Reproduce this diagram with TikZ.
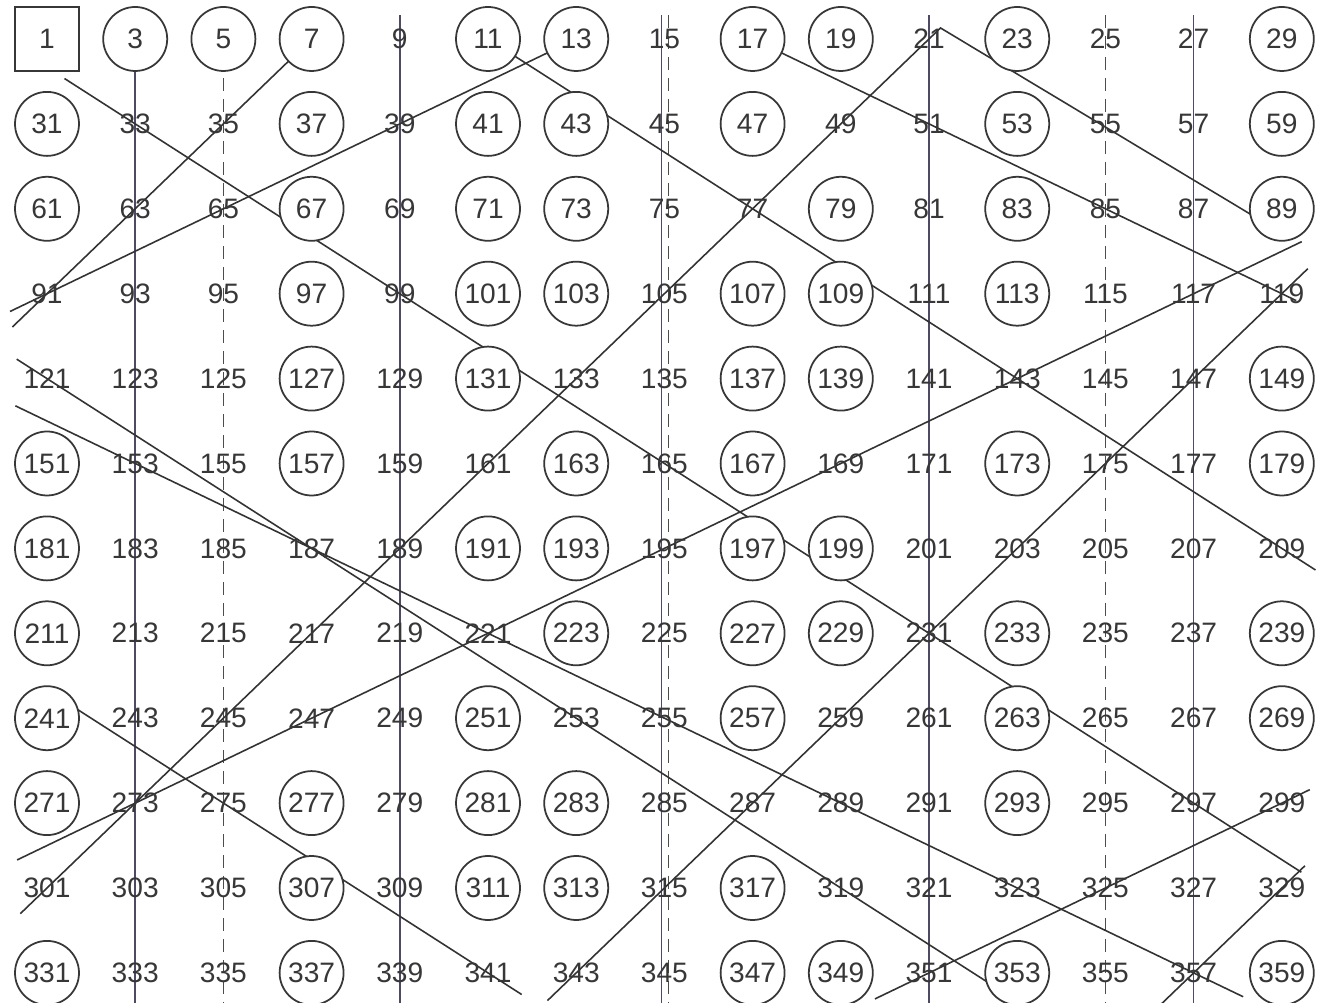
\documentclass[tikz,border=0pt]{standalone}
\usepackage{fontspec}
\newfontfamily\sievefont{Liberation Sans}
\definecolor{sieveInk}{RGB}{55,55,55}
\definecolor{sieveRule}{RGB}{78,74,100}
\usepackage{tikz}
\usetikzlibrary{calc}
\pgfdeclarelayer{strikes}
\pgfsetlayers{strikes,main}
\newcommand\primelist{3,5,7,11,13,17,19,23,29,31,37,41,43,47,53,59,61,67,71,73,79,83,89,97,101,103,107,109,113,127,131,137,139,149,151,157,163,167,173,179,181,191,193,197,199,211,223,227,229,233,239,241,251,257,263,269,271,277,281,283,293,307,311,313,317,331,337,347,349,353,359}
\makeatletter
\newcommand\sievestyle[1]{%
  \edef\sieve@tmp{\noexpand\in@{,#1,}{,\primelist,}}\sieve@tmp
  \ifin@\tikzset{cur/.style={prime}}\else\tikzset{cur/.style={num}}\fi
  \ifnum#1=1 \tikzset{cur/.style={unitbox}}\fi}
\makeatother

\begin{document}
\begin{tikzpicture}[
    num/.style={font=\sievefont\fontsize{8}{8}\selectfont, text=sieveInk, inner sep=0pt},
    prime/.style={num, circle, draw=sieveInk, fill=white, minimum size=6.4mm, line width=0.5pt},
    unitbox/.style={num, rectangle, draw=sieveInk, fill=white, minimum size=6.4mm, line width=0.5pt},
    strike/.style={draw=black!80, line width=0.45pt},
    third/.style={draw=sieveRule, line width=0.45pt},
    fifth/.style={draw=black!70, line width=0.5pt, dash pattern=on 1.3mm off 0.8mm}
  ]
  \useasboundingbox (0,0) rectangle (13.2,-10.03);

  \foreach \row in {0,...,11}
    \foreach \col in {0,...,14} {
      \pgfmathtruncatemacro\n{30*\row+2*\col+1}
      \sievestyle{\n}
      \node[cur] (n\n) at ({0.47+0.882*\col}, {-0.39-0.849*\row}) {\n};
    }

  \begin{pgfonlayer}{strikes}
    \foreach \a/\b in {3/333, 9/339, 21/351, 27/357}
      \draw[third] ([yshift=2.4mm]n\a.center) -- ([yshift=-3mm]n\b.center);
    \draw[third] ([xshift=-0.3mm, yshift=2.4mm]n15.center) -- ([xshift=-0.3mm, yshift=-3mm]n345.center);
    \foreach \a/\b in {5/335, 25/355}
      \draw[fifth] ([yshift=2.4mm]n\a.center) -- ([yshift=-3mm]n\b.center);
    \draw[fifth] ([xshift=0.4mm, yshift=2.4mm]n15.center) -- ([xshift=0.4mm, yshift=-3mm]n345.center);

    \coordinate (apex) at ($(n301.center)!1.013!(n21.center)$);
    \coordinate (apexend) at (12.90,-2.38);

    \draw[strike, shorten <=-0.48cm] (n91.center) -- (n7.center);
    \draw[strike, shorten <=-0.37cm] (n301.center) -- (apex) -- (apexend);
    \draw[strike, shorten <=-0.36cm, shorten >=-0.4cm] (n119.center) -- (n343.center);
    \draw[strike, shorten <=-0.32cm, shorten >=-0.45cm] (n329.center) -- (n357.center);

    \draw[strike, shorten <=-0.84cm, shorten >=-1.28cm] (n33.center) -- (n297.center);
    \draw[strike, shorten >=-0.4cm] (n11.center) -- (n209.center);
    \draw[strike, shorten <=-0.36cm, shorten >=-1.77cm] (n121.center) -- (n319.center);
    \draw[strike, shorten <=-2.0cm, shorten >=-0.4cm] (n275.center) -- (n341.center);

    \draw[strike, shorten >=-0.41cm] (n13.center) -- (n91.center);
    \draw[strike, shorten <=-1.2cm, shorten >=-1.31cm] (n117.center) -- (n273.center);
    \draw[strike, shorten <=-0.31cm, shorten >=-0.6cm] (n299.center) -- (n351.center);

    \draw[strike, shorten >=-0.16cm] (n17.center) -- (n119.center);
    \draw[strike, shorten <=-1.33cm, shorten >=-0.55cm] (n153.center) -- (n357.center);
  \end{pgfonlayer}
\end{tikzpicture}
\end{document}
